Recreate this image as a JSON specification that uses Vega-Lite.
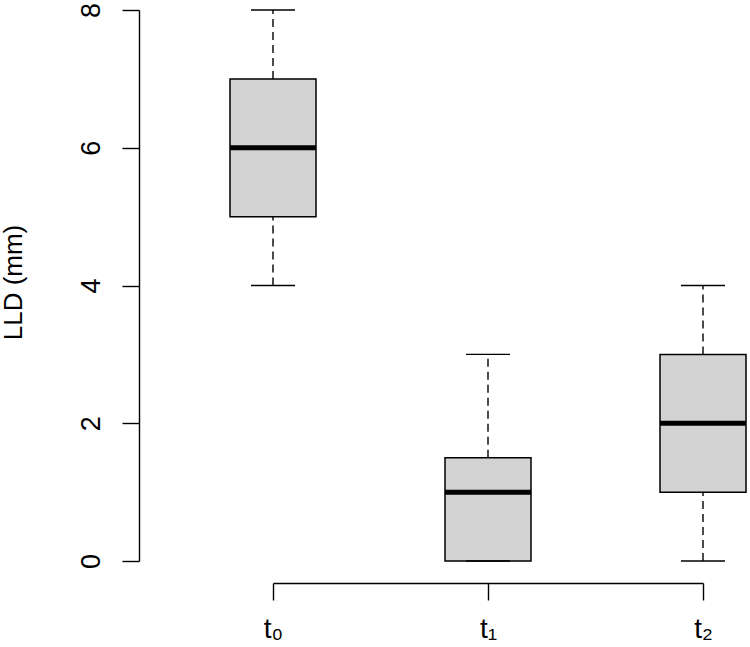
{
  "$schema": "https://vega.github.io/schema/vega-lite/v6.json",
  "width": 430,
  "height": 551,
  "autosize": {"type": "none"},
  "padding": {"left": 273, "top": 10, "right": 47, "bottom": 86},
  "background": "white",
  "config": {
    "view": {"stroke": null},
    "font": "Liberation Sans",
    "axis": {"grid": false, "domainColor": "black", "tickColor": "black", "labelColor": "black", "titleColor": "black", "domainWidth": 1.4, "tickWidth": 1.4, "labelFont": "Liberation Sans", "titleFont": "Liberation Sans"}
  },
  "data": {
    "values": [
      {"time": "t₀", "min": 4, "q1": 5, "median": 6, "q3": 7, "max": 8},
      {"time": "t₁", "min": 0, "q1": 0, "median": 1, "q3": 1.5, "max": 3},
      {"time": "t₂", "min": 0, "q1": 1, "median": 2, "q3": 3, "max": 4}
    ]
  },
  "encoding": {
    "x": {
      "field": "time",
      "type": "nominal",
      "sort": null,
      "scale": {"type": "point", "padding": 0},
      "axis": {
        "title": null,
        "orient": "bottom",
        "offset": 22,
        "tickSize": 17,
        "labelAngle": 0,
        "labelFontSize": 28,
        "labelPadding": 15
      }
    }
  },
  "layer": [
    {
      "mark": {"type": "rule", "strokeDash": [8, 5], "strokeWidth": 1.4, "color": "black"},
      "encoding": {
        "y": {
          "field": "min",
          "type": "quantitative",
          "scale": {"domain": [0, 8], "nice": false, "zero": false},
          "axis": {
            "title": "LLD (mm)",
            "values": [0, 2, 4, 6, 8],
            "format": "d",
            "offset": 134,
            "tickSize": 17,
            "labelAngle": -90,
            "labelAlign": "center",
            "labelBaseline": "alphabetic",
            "labelPadding": 23,
            "labelFontSize": 27,
            "titleFontSize": 26,
            "titleFontWeight": "normal",
            "titleAngle": -90,
            "titleBaseline": "alphabetic",
            "titleAlign": "center",
            "titleX": -118,
            "titleY": 272
          }
        },
        "y2": {"field": "q1"}
      }
    },
    {
      "mark": {"type": "rule", "strokeDash": [8, 5], "strokeWidth": 1.4, "color": "black"},
      "encoding": {
        "y": {"field": "q3", "type": "quantitative"},
        "y2": {"field": "max"}
      }
    },
    {
      "mark": {"type": "bar", "size": 86, "fill": "#d3d3d3", "stroke": "black", "strokeWidth": 1.5, "opacity": 1},
      "encoding": {
        "y": {"field": "q1", "type": "quantitative"},
        "y2": {"field": "q3"}
      }
    },
    {
      "mark": {"type": "tick", "size": 86, "thickness": 5, "color": "black", "opacity": 1, "orient": "horizontal"},
      "encoding": {
        "y": {"field": "median", "type": "quantitative"}
      }
    },
    {
      "mark": {"type": "tick", "size": 44, "thickness": 1.4, "color": "black", "opacity": 1, "orient": "horizontal"},
      "encoding": {
        "y": {"field": "min", "type": "quantitative"}
      }
    },
    {
      "mark": {"type": "tick", "size": 44, "thickness": 1.4, "color": "black", "opacity": 1, "orient": "horizontal"},
      "encoding": {
        "y": {"field": "max", "type": "quantitative"}
      }
    }
  ]
}
